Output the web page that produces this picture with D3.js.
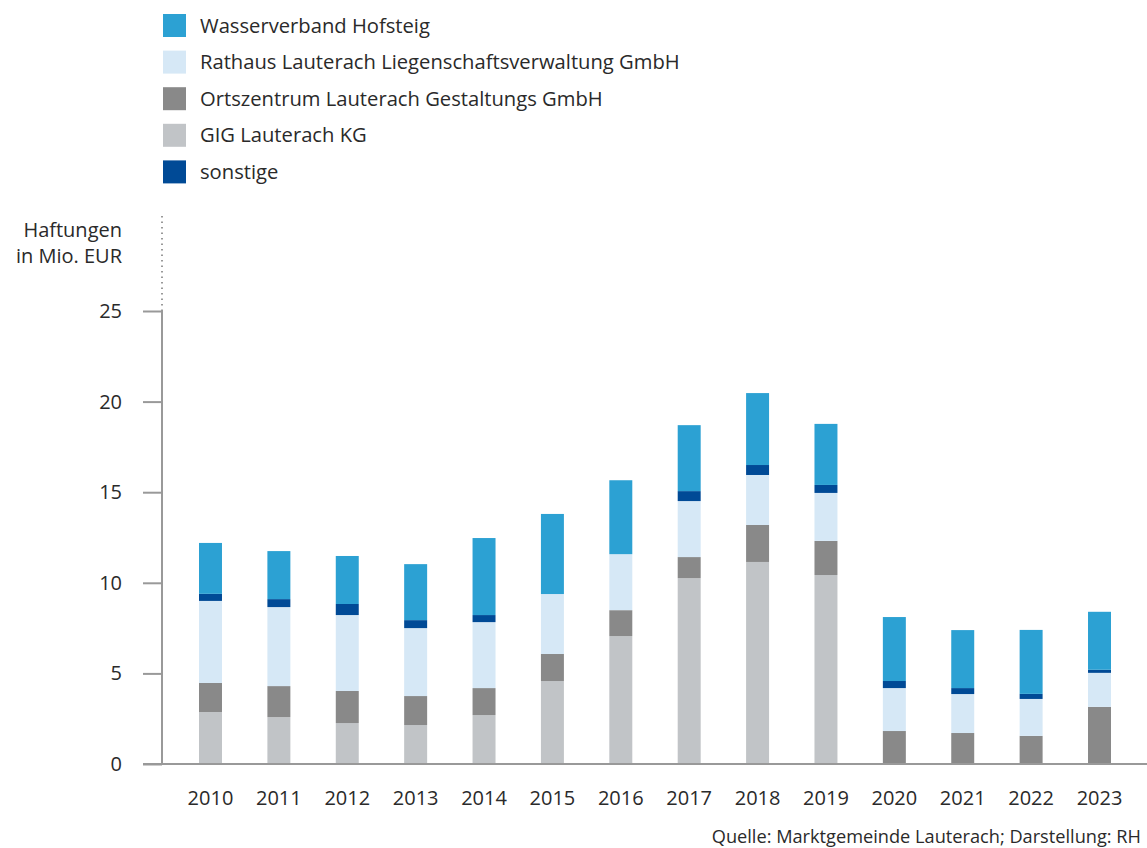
<!DOCTYPE html>
<html>
<head>
<meta charset="utf-8">
<script src="https://cdn.jsdelivr.net/npm/d3@7"></script>
<style>
  body { margin: 0; background: #fff; }
  svg { display: block; font-family: "Open Sans", sans-serif; }
</style>
</head>
<body>
<div id="chart"></div>
<script>
const years = ["2010", "2011", "2012", "2013", "2014", "2015", "2016", "2017", "2018", "2019", "2020", "2021", "2022", "2023"];

// stacked from bottom to top
const gig = [2.87, 2.59, 2.26, 2.15, 2.70, 4.58, 7.06, 10.26, 11.15, 10.43, 0, 0, 0, 0];
const ortszentrum = [1.60, 1.71, 1.77, 1.60, 1.49, 1.49, 1.43, 1.16, 2.04, 1.88, 1.82, 1.71, 1.55, 3.15];
const rathaus = [4.53, 4.36, 4.19, 3.75, 3.64, 3.31, 3.09, 3.09, 2.76, 2.65, 2.37, 2.15, 2.04, 1.88];
const sonstige = [0.39, 0.44, 0.61, 0.44, 0.39, 0, 0, 0.55, 0.55, 0.44, 0.39, 0.33, 0.28, 0.17];
const wasserverband = [2.81, 2.65, 2.65, 3.09, 4.25, 4.42, 4.08, 3.64, 3.97, 3.37, 3.53, 3.20, 3.53, 3.20];

const yTicks = [0, 5, 10, 15, 20, 25];

const series = [
  {key: "gig", name: "GIG Lauterach KG", values: gig, color: "#c1c4c7"},
  {key: "orts", name: "Ortszentrum Lauterach Gestaltungs GmbH", values: ortszentrum, color: "#898989"},
  {key: "rathaus", name: "Rathaus Lauterach Liegenschaftsverwaltung GmbH", values: rathaus, color: "#d6e8f6"},
  {key: "sonst", name: "sonstige", values: sonstige, color: "#004a96"},
  {key: "wasser", name: "Wasserverband Hofsteig", values: wasserverband, color: "#2ca1d3"}
];

// legend goes top to bottom in this order
const legendOrder = ["wasser", "rathaus", "orts", "gig", "sonst"];

let width = 1147,
    height = 848,
    textColor = "#2a2a2a";

let svg = d3.select("#chart").append("svg")
      .attr("width", width)
      .attr("height", height);

let table = years.map((y, i) => {
  let row = {year: y};
  series.forEach(s => row[s.key] = s.values[i]);
  return row;
});

let stack = d3.stack().keys(series.map(s => s.key));
let stacked = stack(table);

let x = d3.scaleBand()
      .domain(years)
      .range([176.3, 1133.7])
      .paddingInner(0.664)
      .paddingOuter(0.332);

let y = d3.scaleLinear()
      .domain([0, 25])
      .range([764, 311]);

let color = d3.scaleOrdinal()
      .domain(series.map(s => s.key))
      .range(series.map(s => s.color));

// bars
svg.append("g")
  .selectAll("g")
  .data(stacked)
  .enter()
    .append("g")
    .attr("fill", d => color(d.key))
  .selectAll("rect")
  .data(d => d)
  .enter()
    .append("rect")
    .attr("x", d => x(d.data.year))
    .attr("y", d => y(d[1]))
    .attr("width", x.bandwidth())
    .attr("height", d => y(d[0]) - y(d[1]));

// y axis
let yAxis = svg.append("g")
      .attr("transform", "translate(162,0)")
      .call(d3.axisLeft(y).tickValues(yTicks).tickSize(19).tickPadding(21));

yAxis.select(".domain").remove();
yAxis.selectAll(".tick line").attr("stroke", "#999").attr("stroke-width", 2);
yAxis.selectAll(".tick text")
  .attr("fill", textColor)
  .style("font-size", "20px")
  .style("font-family", "Open Sans, sans-serif");

svg.append("line")
  .attr("x1", 162).attr("x2", 162)
  .attr("y1", y(25)).attr("y2", y(0))
  .attr("stroke", "#999")
  .attr("stroke-width", 2);

// dotted extension above the axis
svg.append("line")
  .attr("x1", 162).attr("x2", 162)
  .attr("y1", 216).attr("y2", y(25))
  .attr("stroke", "#999")
  .attr("stroke-width", 2)
  .attr("stroke-dasharray", "1.6 3.9");

// baseline
svg.append("line")
  .attr("x1", 143).attr("x2", width)
  .attr("y1", y(0)).attr("y2", y(0))
  .attr("stroke", "#999")
  .attr("stroke-width", 2);

// x labels
svg.append("g")
  .selectAll("text")
  .data(years)
  .enter()
    .append("text")
    .attr("x", d => x(d) + x.bandwidth() / 2)
    .attr("y", 805)
    .attr("text-anchor", "middle")
    .attr("fill", textColor)
    .style("font-size", "20px")
    .text(d => d);

// y title
svg.append("text")
  .attr("x", 122).attr("y", 237)
  .attr("text-anchor", "end")
  .attr("fill", textColor)
  .style("font-size", "20px")
  .text("Haftungen");

svg.append("text")
  .attr("x", 122).attr("y", 263)
  .attr("text-anchor", "end")
  .attr("fill", textColor)
  .style("font-size", "20px")
  .text("in Mio. EUR");

// legend
let legend = svg.append("g")
  .selectAll("g")
  .data(legendOrder.map(k => series.find(s => s.key === k)))
  .enter()
    .append("g")
    .attr("transform", (d, i) => "translate(163," + (14 + i * 36.6) + ")");

legend.append("rect")
  .attr("width", 23)
  .attr("height", 23)
  .attr("fill", d => d.color);

legend.append("text")
  .attr("x", 37)
  .attr("y", 18.5)
  .attr("fill", textColor)
  .style("font-size", "20.2px")
  .text(d => d.name);

// source
svg.append("text")
  .attr("x", 1141).attr("y", 843)
  .attr("text-anchor", "end")
  .attr("fill", textColor)
  .style("font-size", "18.2px")
  .text("Quelle: Marktgemeinde Lauterach; Darstellung: RH");
</script>
</body>
</html>
